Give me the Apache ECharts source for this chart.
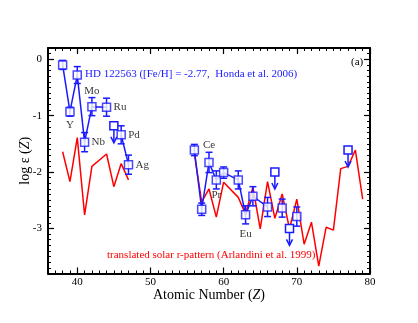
<!DOCTYPE html>
<html>
<head>
<meta charset="utf-8">
<script src="https://cdn.jsdelivr.net/npm/echarts@6/dist/echarts.min.js"></script>
<style>
  html, body { margin: 0; padding: 0; background: #fff; }
  #main { width: 418px; height: 323px; }
</style>
</head>
<body>
<div id="main"></div>
<script>
// HD 122563 abundances (Honda et al. 2006)
var blueZ = [38, 39, 40, 41, 42, 44, 46, 47, 56, 57, 58, 59, 60, 62, 63, 64, 66, 68, 70]
var blueVal = [-0.10, -0.93, -0.28, -1.47, -0.84, -0.85, -1.34, -1.87, -1.61, -2.66, -1.83, -2.14, -2.01, -2.14, -2.76, -2.43, -2.62, -2.64, -2.79]
var blueErr = [0.08, 0.08, 0.15, 0.17, 0.16, 0.16, 0.16, 0.17, 0.10, 0.11, 0.18, 0.16, 0.10, 0.16, 0.16, 0.17, 0.17, 0.16, 0.17]
// which connected piece each point belongs to
var blueSeg = [1, 1, 1, 1, 1, 1, 2, 2, 3, 3, 3, 3, 3, 3, 3, 3, 3, 4, 5]

// upper limits
var limZ = [45, 67, 69, 77]
var limVal = [-1.18, -2.00, -3.00, -1.61]

// translated solar r-pattern (Arlandini et al. 1999)
var solarZ = [38, 39, 40, 41, 42, 44, 45, 46, 47, 56, 57, 58, 59, 60, 62, 63, 64, 65, 66, 67, 68, 69, 70, 71, 72, 73, 74, 75, 76, 77, 78, 79]
var solarVal = [-1.64, -2.17, -1.39, -2.76, -1.90, -1.68, -2.26, -1.85, -2.14, -1.68, -2.53, -2.30, -2.80, -2.18, -2.45, -2.75, -2.27, -3.01, -2.17, -2.82, -2.39, -3.01, -2.48, -3.28, -2.89, -3.67, -2.98, -3.03, -1.94, -1.90, -1.61, -2.48]
var solarSeg = [1, 1, 1, 1, 1, 1, 1, 1, 1, 2, 2, 2, 2, 2, 2, 2, 2, 2, 2, 2, 2, 2, 2, 2, 2, 2, 2, 2, 2, 2, 2, 2]

// element labels
var labelNames = ['Y', 'Mo', 'Nb', 'Ru', 'Pd', 'Ag', 'Ce', 'Pr', 'Eu']
var labelZ = [39, 42, 41, 44, 46, 47, 58, 59, 63]

// axis ticks
var xTicks = [40, 50, 60, 70, 80]
var yTicks = [-3, -2, -1, 0]

var BLUE = '#1a1aff'
var RED = '#ff0000'
var FONT = 'Liberation Serif'

var labelPlace = {
  Y: { position: 'bottom', distance: 4 },
  Mo: { position: 'top', distance: 6 },
  Nb: { position: 'right', distance: 3 },
  Ru: { position: 'right', distance: 3 },
  Pd: { position: 'right', distance: 3 },
  Ag: { position: 'right', distance: 3 },
  Ce: { position: 'top', distance: 8 },
  Pr: { position: 'bottom', distance: 6 },
  Eu: { position: 'bottom', distance: 10 }
}

var myChart = echarts.init(document.getElementById('main'))

function _uniq(arr) {
  var r = []
  arr.forEach(function (v) { if (r.indexOf(v) < 0) r.push(v) })
  return r
}

function segmentSeries(xs, ys, segs, color, name) {
  var out = []
  _uniq(segs).forEach(function (id) {
    var pts = []
    for (var i = 0; i < xs.length; i++) {
      if (segs[i] === id) pts.push([xs[i], ys[i]])
    }
    out.push({
      name: name,
      type: 'line',
      data: pts,
      symbol: 'none',
      lineStyle: { color: color, width: 1.5 },
      silent: true,
      animation: false,
      z: color === RED ? 2 : 3
    })
  })
  return out
}

var plain = { show: false }
var tickLen = 6
var minorLen = 3
var lineOn = { show: true, onZero: false, lineStyle: { color: '#000', width: 2 } }
var lineOff = { show: false, onZero: false }

// 主坐标轴 + 小刻度轴
var xAxes = [
  {
    type: 'value', position: 'bottom', min: 36, max: 80,
    axisLine: lineOn,
    axisTick: { show: true, inside: true, length: tickLen, customValues: xTicks, lineStyle: { color: '#000', width: 1.2 } },
    axisLabel: { customValues: xTicks, color: '#000', fontFamily: FONT, fontSize: 11, margin: 3 },
    splitLine: plain,
    name: 'Atomic Number ({i|Z})',
    nameLocation: 'middle',
    nameGap: 15,
    nameMoveOverlap: false,
    nameTextStyle: {
      color: '#000', fontFamily: FONT, fontSize: 14, verticalAlign: 'top',
      rich: { i: { fontStyle: 'italic', fontFamily: FONT, fontSize: 14, color: '#000' } }
    }
  },
  {
    type: 'value', position: 'top', min: 36, max: 80,
    axisLine: lineOn,
    axisTick: { show: true, inside: true, length: tickLen, customValues: xTicks, lineStyle: { color: '#000', width: 1.2 } },
    axisLabel: plain, splitLine: plain
  },
  {
    type: 'value', position: 'bottom', min: 36, max: 80, interval: 1,
    axisLine: lineOff,
    axisTick: { show: true, inside: true, length: minorLen, lineStyle: { color: '#000', width: 1 } },
    axisLabel: plain, splitLine: plain
  },
  {
    type: 'value', position: 'top', min: 36, max: 80, interval: 1,
    axisLine: lineOff,
    axisTick: { show: true, inside: true, length: minorLen, lineStyle: { color: '#000', width: 1 } },
    axisLabel: plain, splitLine: plain
  }
]

var yAxes = [
  {
    type: 'value', position: 'left', min: -3.8, max: 0.2,
    axisLine: lineOn,
    axisTick: { show: true, inside: true, length: tickLen, customValues: yTicks, lineStyle: { color: '#000', width: 1.2 } },
    axisLabel: { customValues: yTicks, color: '#000', fontFamily: FONT, fontSize: 11, margin: 6 },
    splitLine: plain,
    name: 'log ε ({i|Z})',
    nameLocation: 'middle',
    nameGap: 16,
    nameMoveOverlap: false,
    nameTextStyle: {
      color: '#000', fontFamily: FONT, fontSize: 14,
      rich: { i: { fontStyle: 'italic', fontFamily: FONT, fontSize: 14, color: '#000' } }
    }
  },
  {
    type: 'value', position: 'right', min: -3.8, max: 0.2,
    axisLine: lineOn,
    axisTick: { show: true, inside: true, length: tickLen, customValues: yTicks, lineStyle: { color: '#000', width: 1.2 } },
    axisLabel: plain, splitLine: plain
  },
  {
    type: 'value', position: 'left', min: -3.8, max: 0.2, interval: 0.1,
    axisLine: lineOff,
    axisTick: { show: true, inside: true, length: minorLen, lineStyle: { color: '#000', width: 1 } },
    axisLabel: plain, splitLine: plain
  },
  {
    type: 'value', position: 'right', min: -3.8, max: 0.2, interval: 0.1,
    axisLine: lineOff,
    axisTick: { show: true, inside: true, length: minorLen, lineStyle: { color: '#000', width: 1 } },
    axisLabel: plain, splitLine: plain
  }
]

var errData = blueZ.map(function (z, i) { return [z, blueVal[i], blueErr[i]] })
var limData = limZ.map(function (z, i) { return [z, limVal[i]] })
var pointData = blueZ.map(function (z, i) { return [z, blueVal[i]] })
var labelData = labelNames.map(function (n, i) {
  var idx = blueZ.indexOf(labelZ[i])
  var place = labelPlace[n]
  return {
    value: [labelZ[i], blueVal[idx]],
    label: { show: true, formatter: n, position: place.position, distance: place.distance }
  }
})

var series = []
series = series.concat(segmentSeries(solarZ, solarVal, solarSeg, RED, 'solar'))
series = series.concat(segmentSeries(blueZ, blueVal, blueSeg, BLUE, 'HD 122563'))

// error bars
series.push({
  type: 'custom',
  data: errData,
  silent: true,
  animation: false,
  z: 4,
  renderItem: function (params, api) {
    var x = api.value(0), y = api.value(1), e = api.value(2)
    var top = api.coord([x, y + e])
    var bot = api.coord([x, y - e])
    var cap = 3.5
    var st = { stroke: BLUE, lineWidth: 1.5 }
    return {
      type: 'group',
      children: [
        { type: 'line', shape: { x1: top[0], y1: top[1], x2: bot[0], y2: bot[1] }, style: st },
        { type: 'line', shape: { x1: top[0] - cap, y1: top[1], x2: top[0] + cap, y2: top[1] }, style: st },
        { type: 'line', shape: { x1: bot[0] - cap, y1: bot[1], x2: bot[0] + cap, y2: bot[1] }, style: st }
      ]
    }
  }
})

// upper limits: box + arrow down
series.push({
  type: 'custom',
  data: limData,
  silent: true,
  animation: false,
  z: 4,
  renderItem: function (params, api) {
    var c = api.coord([api.value(0), api.value(1)])
    var len = 17
    var st = { stroke: BLUE, lineWidth: 1.5, fill: null }
    return {
      type: 'group',
      children: [
        { type: 'line', shape: { x1: c[0], y1: c[1] + 4, x2: c[0], y2: c[1] + len }, style: st },
        { type: 'polyline', shape: { points: [[c[0] - 3, c[1] + len - 6], [c[0], c[1] + len], [c[0] + 3, c[1] + len - 6]] }, style: st },
        { type: 'rect', shape: { x: c[0] - 4, y: c[1] - 4, width: 8, height: 8 }, style: { stroke: BLUE, lineWidth: 1.5, fill: '#fff' } }
      ]
    }
  }
})

// boxes
series.push({
  type: 'scatter',
  data: pointData,
  symbol: 'rect',
  symbolSize: 8,
  itemStyle: { color: '#fff', borderColor: BLUE, borderWidth: 1.5 },
  silent: true,
  animation: false,
  z: 5
})

// element names
series.push({
  type: 'scatter',
  data: labelData,
  symbol: 'rect',
  symbolSize: 8,
  itemStyle: { color: 'rgba(0,0,0,0)', borderWidth: 0 },
  label: { color: '#000', fontFamily: FONT, fontSize: 11 },
  silent: true,
  animation: false,
  z: 6
})

var option = {
  backgroundColor: '#fff',
  grid: { left: 48, top: 48, width: 322, height: 225.5 },
  xAxis: xAxes,
  yAxis: yAxes,
  series: series.map(function (s) {
    // 全部画在主坐标轴上
    s.xAxisIndex = 0
    s.yAxisIndex = 0
    return s
  }),
  graphic: [
    {
      type: 'text', left: 85, top: 69,
      style: { text: 'HD 122563 ([Fe/H] = -2.77,  Honda et al. 2006)', fill: BLUE, font: '11px "Liberation Serif"' }
    },
    {
      type: 'text', left: 351, top: 57,
      style: { text: '(a)', fill: '#000', font: '11px "Liberation Serif"' }
    },
    {
      type: 'text', left: 107, top: 250,
      style: { text: 'translated solar r-pattern (Arlandini et al. 1999)', fill: RED, font: '11px "Liberation Serif"' }
    }
  ]
}

myChart.setOption(option)
</script>
</body>
</html>
